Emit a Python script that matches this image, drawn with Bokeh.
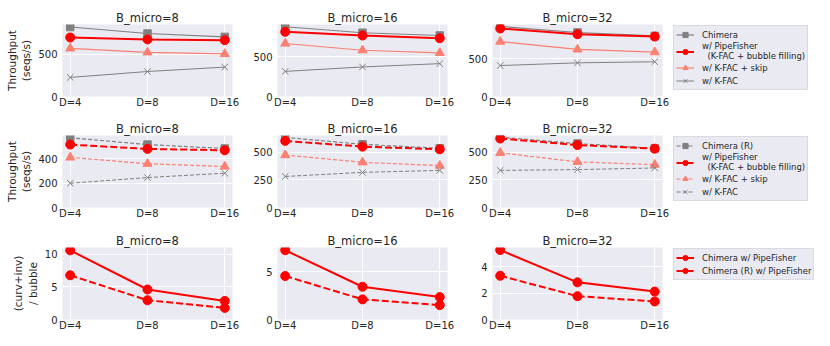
from bokeh.plotting import figure
from bokeh.layouts import column, row
from bokeh.models import Range1d, FixedTicker, Legend, LegendItem, Spacer
from bokeh.embed import file_html
from bokeh.resources import INLINE

D_LABELS = ["D=4", "D=8", "D=16"]
B_TITLES = ["B_micro=8", "B_micro=16", "B_micro=32"]

# Row 1: Chimera (per B_micro panel, values at D=4, 8, 16)
chimera = [[823, 746, 706], [881, 805, 770], [928, 848, 802]]
pipefisher = [[699, 676, 667], [817, 770, 736], [901, 825, 794]]
kfac_skip = [[570, 523, 504], [669, 584, 551], [727, 624, 588]]
kfac = [[226, 296, 348], [317, 373, 415], [410, 446, 460]]

# Row 2: Chimera (R)
chimera_r = [[575, 519, 486], [632, 570, 534], [635, 577, 534]]
pipefisher_r = [[519, 483, 472], [601, 549, 525], [623, 564, 531]]
kfac_skip_r = [[413, 361, 338], [473, 408, 378], [494, 412, 387]]
kfac_r = [[200, 247, 283], [280, 317, 335], [335, 342, 357]]

# Row 3: (curv+inv) / bubble
ratio = [[10.6, 4.6, 2.85], [7.23, 3.42, 2.34], [5.27, 2.82, 2.12]]
ratio_r = [[6.78, 2.95, 1.78], [4.54, 2.10, 1.50], [3.32, 1.77, 1.37]]

Y_TICKS = [
    [[0, 500], [0, 500], [0, 500]],
    [[0, 200, 400], [0, 250, 500], [0, 250, 500]],
    [[0, 5, 10], [0, 5], [0, 2, 4]],
]
Y_LABELS = ["Throughput\n(seqs/s)", "Throughput\n(seqs/s)", "(curv+inv)\n/ bubble"]

FONT = "DejaVu Sans"
TXT = "#262626"
BG = "#EAEAF2"
GRAY = "#808080"
RED = "#FF0000"
SALMON = "#FA8072"

xs = list(range(len(D_LABELS)))
TOP = 16
BOTTOMS = [23, 24, 16]
TITLE_STANDOFF = 0
NAN = float("nan")


def ylim(series):
    allv = [v for s in series for v in s]
    hi, lo = max(allv), min(allv)
    return hi + 0.05 * (hi - lo)


def base_fig(r, c, ymax):
    p = figure(frame_width=170, frame_height=72,
               x_range=Range1d(-0.1, 2.1), y_range=Range1d(0, ymax),
               output_backend="svg", toolbar_location=None,
               min_border_left=62 if c == 0 else 35,
               min_border_right=10,
               min_border_top=TOP,
               min_border_bottom=BOTTOMS[r],
               background_fill_color=BG, border_fill_color="white",
               outline_line_color=None, title=B_TITLES[c])
    p.title.align = "center"
    p.title.text_font = FONT
    p.title.text_font_size = "11.5px"
    p.title.text_font_style = "normal"
    p.title.text_color = TXT
    p.title.standoff = TITLE_STANDOFF
    for ax in (p.xaxis[0], p.yaxis[0]):
        ax.axis_line_color = None
        ax.major_tick_line_color = None
        ax.minor_tick_line_color = None
        ax.major_tick_out = 0
        ax.major_tick_in = 0
        ax.minor_tick_out = 0
        ax.minor_tick_in = 0
        ax.major_label_text_font = FONT
        ax.major_label_text_font_size = "10px"
        ax.major_label_text_color = TXT
    p.xaxis.ticker = FixedTicker(ticks=xs)
    p.xaxis.major_label_overrides = {i: l for i, l in enumerate(D_LABELS)}
    p.xaxis.major_label_standoff = 0
    p.yaxis.ticker = FixedTicker(ticks=Y_TICKS[r][c])
    p.yaxis.major_label_standoff = 5
    if c == 0:
        p.yaxis.axis_label = Y_LABELS[r]
        p.yaxis.axis_label_text_font = FONT
        p.yaxis.axis_label_text_font_size = "10.5px"
        p.yaxis.axis_label_text_font_style = "normal"
        p.yaxis.axis_label_text_color = TXT
        p.yaxis.axis_label_standoff = 3
    p.grid.grid_line_color = "white"
    p.grid.grid_line_width = 1
    return p


def legend_fig(r, entries):
    """Legend panel; its renderers only carry a NaN point so that nothing is plotted."""
    p = figure(frame_width=148, frame_height=72,
               x_range=Range1d(0, 1), y_range=Range1d(0, 1),
               output_backend="svg", toolbar_location=None,
               min_border_left=0, min_border_right=0,
               min_border_top=TOP, min_border_bottom=BOTTOMS[r],
               background_fill_color=None, border_fill_color="white",
               outline_line_color=None,
               x_axis_location=None, y_axis_location=None)
    p.grid.visible = False
    items = []
    for label, lkw, skw in entries:
        l = p.line([NAN], [NAN], **lkw)
        s = p.scatter([NAN], [NAN], **skw)
        items.append(LegendItem(label=label, renderers=[l, s]))
    leg = Legend(items=items, location="top_left")
    leg.label_text_font = FONT
    leg.label_text_font_size = "8.5px"
    leg.label_text_color = TXT
    leg.background_fill_color = BG
    leg.background_fill_alpha = 1.0
    leg.border_line_color = "#CCCCCC"
    leg.border_line_width = 1
    leg.glyph_width = 18
    leg.glyph_height = 13
    leg.label_height = 10
    leg.spacing = 0
    leg.padding = 2
    leg.label_standoff = 8
    leg.margin = 1
    p.add_layout(leg)
    return p


rows = []
for r in range(3):
    figs = []
    for c in range(3):
        if r < 2:
            if r == 0:
                ch, pf, sk, kf = chimera[c], pipefisher[c], kfac_skip[c], kfac[c]
                dash_thin, dash_thick = "solid", "solid"
            else:
                ch, pf, sk, kf = chimera_r[c], pipefisher_r[c], kfac_skip_r[c], kfac_r[c]
                dash_thin, dash_thick = "4 2", "7 3"
            p = base_fig(r, c, ylim([ch, pf, sk, kf]))
            p.line(xs, ch, line_color=GRAY, line_width=1.2, line_dash=dash_thin)
            p.scatter(xs, ch, marker="square", size=7.5, color=GRAY)
            p.line(xs, sk, line_color=SALMON, line_width=1.2, line_dash=dash_thin)
            p.scatter(xs, sk, marker="triangle", size=9, color=SALMON)
            p.line(xs, kf, line_color=GRAY, line_width=1, line_dash=dash_thin)
            p.scatter(xs, kf, marker="x", size=9, line_color=GRAY, line_width=1)
            p.line(xs, pf, line_color=RED, line_width=2, line_dash=dash_thick)
            p.scatter(xs, pf, marker="circle", size=9, color=RED)
        else:
            p = base_fig(r, c, ylim([ratio[c], ratio_r[c]]))
            p.line(xs, ratio[c], line_color=RED, line_width=2)
            p.scatter(xs, ratio[c], marker="circle", size=9, color=RED)
            p.line(xs, ratio_r[c], line_color=RED, line_width=2, line_dash="7 3")
            p.scatter(xs, ratio_r[c], marker="circle", size=9, color=RED)
        figs.append(p)

    if r < 2:
        dash_thin, dash_thick = ("solid", "solid") if r == 0 else ("4 2", "7 3")
        entries = [
            ("Chimera" if r == 0 else "Chimera (R)",
             dict(line_color=GRAY, line_width=1.2, line_dash=dash_thin),
             dict(marker="square", size=7.5, color=GRAY)),
            ("w/ PipeFisher\n  (K-FAC + bubble filling)",
             dict(line_color=RED, line_width=2, line_dash=dash_thick),
             dict(marker="circle", size=9, color=RED)),
            ("w/ K-FAC + skip",
             dict(line_color=SALMON, line_width=1.2, line_dash=dash_thin),
             dict(marker="triangle", size=9, color=SALMON)),
            ("w/ K-FAC",
             dict(line_color=GRAY, line_width=1, line_dash=dash_thin),
             dict(marker="x", size=9, line_color=GRAY, line_width=1)),
        ]
    else:
        entries = [
            ("Chimera w/ PipeFisher",
             dict(line_color=RED, line_width=2),
             dict(marker="circle", size=9, color=RED)),
            ("Chimera (R) w/ PipeFisher",
             dict(line_color=RED, line_width=2, line_dash="7 3"),
             dict(marker="circle", size=9, color=RED)),
        ]
    figs.append(legend_fig(r, entries))
    rows.append(row(*figs))

layout = column(Spacer(height=8), *rows)
open("out.html", "w").write(file_html(layout, INLINE))
